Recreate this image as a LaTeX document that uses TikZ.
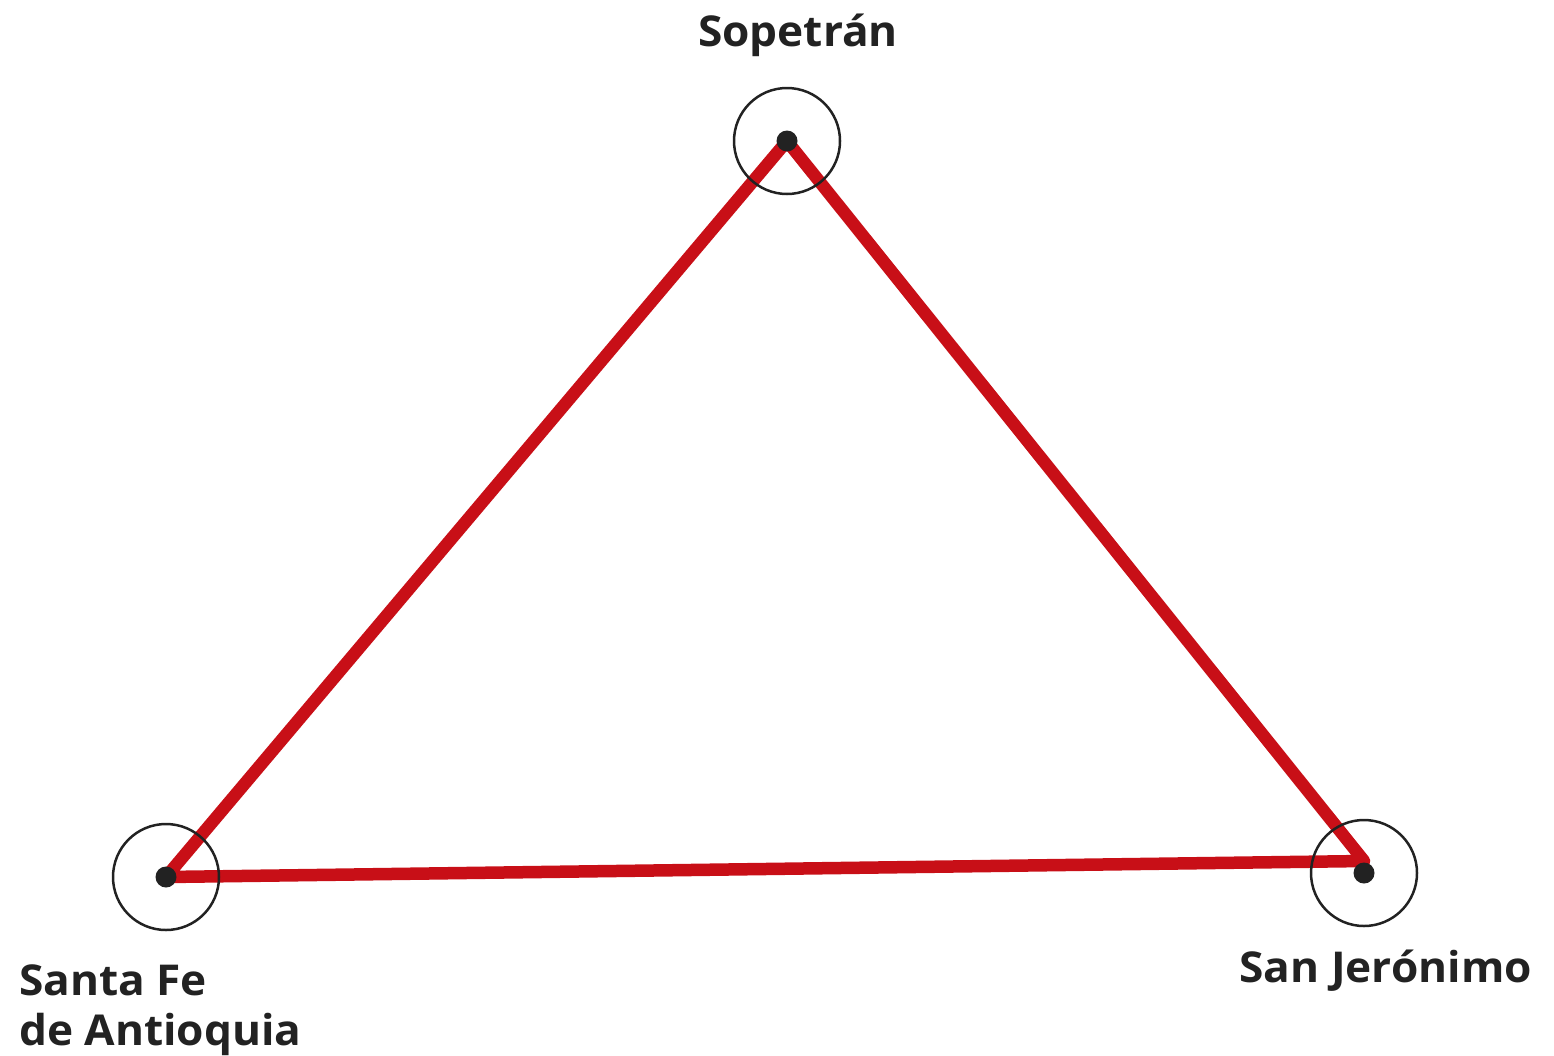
\documentclass[tikz,border=0pt]{standalone}
\usepackage{fontspec}
\setmainfont{Open Sans}[BoldFont={* Bold},BoldFeatures={FakeStretch=1.04}]
\definecolor{tred}{HTML}{C80F17}
\definecolor{tink}{HTML}{222222}
\begin{document}
\begin{tikzpicture}[x=1pt,y=-1pt,
  ring/.style={circle,draw=tink,line width=2.5pt,minimum size=106pt,inner sep=0pt},
  dotn/.style={circle,fill=tink,minimum size=21pt,inner sep=0pt},
  edge/.style={draw=tred,line width=12.5pt,line join=round},
  lab/.style={font=\fontsize{42.5}{50}\selectfont\bfseries,text=tink,inner sep=0pt}]
\useasboundingbox (0,0) rectangle (1554,1055);
% triangle
\coordinate (A) at (787,141);
\coordinate (B) at (166,877);
\coordinate (C) at (1364,861);
\draw[edge] (A) -- (B) -- (C) -- cycle;
% rings and dots
\node[ring] (ra) at (787,141) {};
\node[ring] (rb) at (166,877) {};
\node[ring] (rc) at (1364,873) {};
\node[dotn] (da) at (787,141) {};
\node[dotn] (db) at (166,877) {};
\node[dotn] (dc) at (1364,873) {};
% labels
\node[lab,anchor=base] (la) at (798,46) {Sopetrán};
\node[lab,anchor=base west,align=left] (lb) at (19,1045) {Santa Fe\\de Antioquia};
\node[lab,anchor=base east] (lc) at (1532,982) {San Jerónimo};
\end{tikzpicture}
\end{document}
